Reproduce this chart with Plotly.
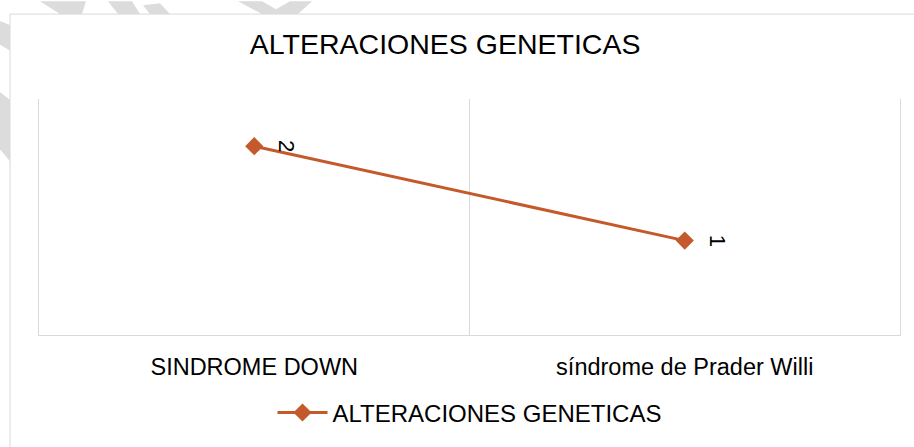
# Line chart: ALTERACIONES GENETICAS
import plotly.graph_objects as go

categories = ["SINDROME DOWN", "síndrome de Prader Willi"]
values = [2, 1]
series_name = "ALTERACIONES GENETICAS"

line_color = "#C4592B"
border_color = "#D9D9D9"
font_family = "Liberation Sans, Arial, sans-serif"

W, H = 914, 447
L, R, T, B = 39, 14, 99, 109


def to_paper(px, py):
    # page pixel -> paper coords
    return (px - L) / (W - L - R), (H - B - py) / (H - T - B)


fig = go.Figure()

fig.add_trace(go.Scatter(
    x=categories,
    y=values,
    mode="lines+markers",
    name=series_name,
    line=dict(color=line_color, width=3),
    marker=dict(symbol="diamond", size=14, color=line_color),
))

# rotated data labels, to the right of each point
for cat, val in zip(categories, values):
    fig.add_annotation(
        x=cat, y=val, text=str(val),
        showarrow=False, textangle=90, xshift=33,
        font=dict(size=22, color="black", family=font_family),
    )

# faint watermark pieces visible outside the chart box
watermark = [
    [(40, 0), (86, 0), (82, 13), (60, 13)],
    [(108, 0), (132, 0), (140, 13), (118, 13)],
    [(143, 4), (160, 2), (170, 13), (150, 13)],
    [(238, 0), (262, 0), (276, 8), (290, 0), (312, 0), (298, 13), (262, 13)],
    [(0, 20), (10, 24), (10, 50), (0, 44)],
    [(0, 92), (10, 100), (10, 162), (0, 150)],
]
for poly in watermark:
    pts = [to_paper(px, py) for px, py in poly]
    path = "M " + " L ".join(f"{x:.4f},{y:.4f}" for x, y in pts) + " Z"
    fig.add_shape(type="path", xref="paper", yref="paper", path=path,
                  layer="below", fillcolor="#DCDCDC", line=dict(width=0))

# outer chart border
bx0, by1 = to_paper(10, 13)
bx1, by0 = to_paper(930, 460)
fig.add_shape(type="rect", xref="paper", yref="paper",
              x0=bx0, x1=bx1, y0=by0, y1=by1, layer="below",
              fillcolor="white", line=dict(color=border_color, width=1))

fig.update_layout(
    width=W, height=H,
    margin=dict(l=L, r=R, t=T, b=B),
    paper_bgcolor="white",
    plot_bgcolor="rgba(0,0,0,0)",
    font=dict(family=font_family, color="black"),
    title=dict(text="ALTERACIONES GENETICAS", x=0.487, xanchor="center",
               y=1 - 44 / H, yanchor="middle",
               font=dict(size=28.5, family=font_family, color="black")),
    showlegend=True,
    legend=dict(orientation="h", x=0.5, xanchor="center", y=-0.33, yanchor="middle",
                font=dict(size=24, family=font_family), itemwidth=50,
                bgcolor="rgba(0,0,0,0)"),
    xaxis=dict(
        type="category", tickson="boundaries",
        showgrid=True, gridcolor=border_color, gridwidth=1,
        showline=True, linecolor=border_color, linewidth=1,
        ticks="", ticklabelstandoff=11,
        tickfont=dict(size=23.5, family=font_family, color="black"),
        range=[-0.5, 1.5], zeroline=False,
    ),
    yaxis=dict(
        range=[0, 2.5], showgrid=False, zeroline=False,
        showticklabels=False, ticks="",
        showline=True, mirror=True, linecolor=border_color, linewidth=1,
    ),
)

fig.write_html("out.html", config={"displayModeBar": False},
               post_script="document.body.style.margin='0';")
